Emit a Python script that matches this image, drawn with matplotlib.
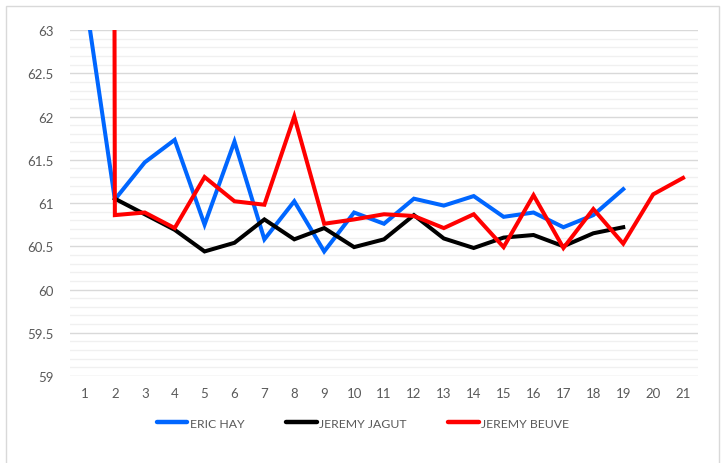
import numpy as np
import matplotlib
matplotlib.use("Agg")
import matplotlib.pyplot as plt
from matplotlib.patches import Rectangle

# donnees
tours = list(range(1, 22))
eric_hay = [63.4, 61.04, 61.47, 61.73, 60.75, 61.71, 60.58, 61.02, 60.44, 60.89,
            60.76, 61.05, 60.97, 61.08, 60.84, 60.89, 60.72, 60.86, 61.16]
jeremy_jagut = [np.nan, 61.05, 60.87, 60.69, 60.44, 60.54, 60.81, 60.58, 60.71, 60.49,
                60.58, 60.86, 60.59, 60.48, 60.60, 60.63, 60.50, 60.65, 60.72]
jeremy_beuve = [250.0, 60.86, 60.89, 60.71, 61.30, 61.02, 60.98, 62.00, 60.76, 60.81,
                60.87, 60.85, 60.71, 60.87, 60.49, 61.09, 60.48, 60.93, 60.53, 61.10, 61.29]
noms = ["ERIC HAY", "JEREMY JAGUT", "JEREMY BEUVE"]
couleurs = ["#0066ff", "#000000", "#ff0000"]

plt.rcParams['font.family'] = ['Lato', 'DejaVu Sans']

fig = plt.figure(figsize=(7.26, 4.64), dpi=100)
ax = fig.add_axes([70/726, 1-377/464, 628/726, 346/464])

series = [eric_hay, jeremy_jagut, jeremy_beuve]
for serie, nom, coul in zip(series, noms, couleurs):
    ax.plot(tours[:len(serie)], serie, color=coul, lw=2.9, label=nom,
            solid_joinstyle='miter', zorder=3)

ax.set_xlim(0.5, 21.5)
ax.set_ylim(59, 63)
ax.set_xticks(tours)
ax.set_yticks(np.arange(59, 63.01, 0.5))
ax.set_yticklabels(["59", "59.5", "60", "60.5", "61", "61.5", "62", "62.5", "63"])
ax.set_yticks(np.arange(59, 63.01, 0.1), minor=True)
ax.grid(which='major', axis='y', color='#d9d9d9', lw=1.0, zorder=0)
ax.grid(which='minor', axis='y', color='#f0f0f0', lw=1.0, zorder=0)
ax.tick_params(which='both', length=0, labelsize=9.5, labelcolor='#595959')
ax.tick_params(axis='y', pad=12)
ax.tick_params(axis='x', pad=8)
for s in ax.spines.values():
    s.set_visible(False)

leg = fig.legend(loc='center', bbox_to_anchor=(0.5, 1-424/464), ncol=3,
                 frameon=False, fontsize=8.8, handlelength=2.5,
                 handletextpad=0.2, columnspacing=3.4)
for t in leg.get_texts():
    t.set_color('#595959')
for h in leg.get_lines():
    h.set_linewidth(3.2)
    h.set_solid_capstyle('round')

# cadre du graphique
fig.patches.append(Rectangle((6/726, -0.05), 713/726, 1.05-7/464,
                             transform=fig.transFigure, fill=False,
                             edgecolor='#d9d9d9', lw=1.0))

fig.savefig("out.png", dpi=100)
